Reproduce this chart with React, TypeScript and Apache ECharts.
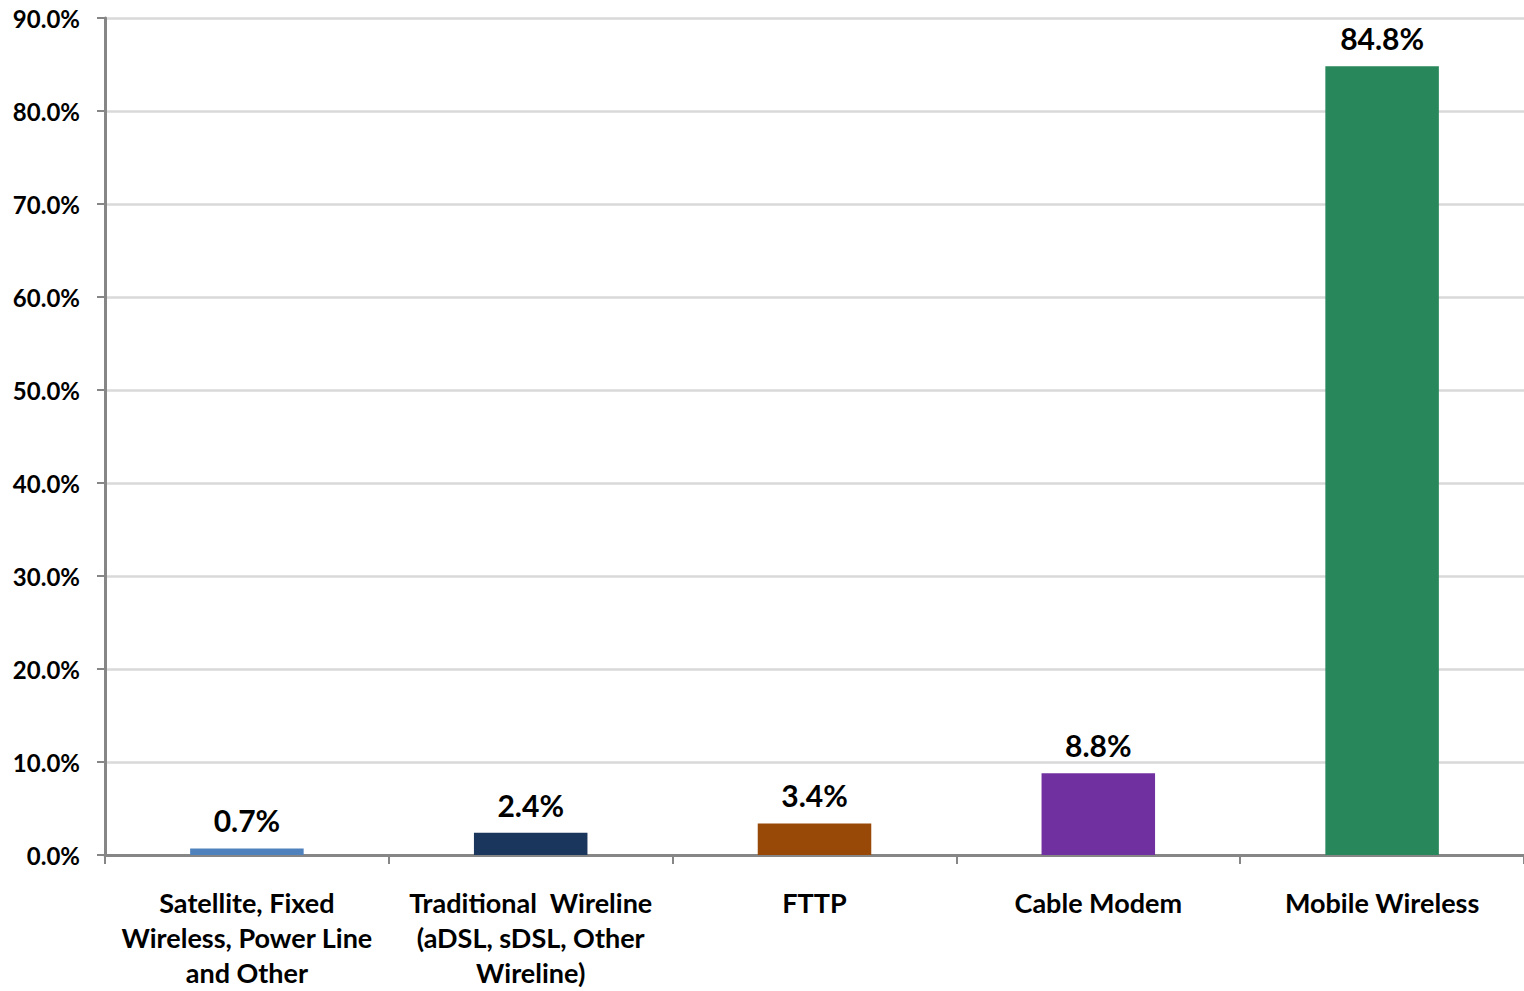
import React, { useEffect, useRef } from "react";
import * as echarts from "echarts";

const categories = [
  "Satellite, Fixed\nWireless, Power Line\nand Other",
  "Traditional  Wireline\n(aDSL, sDSL, Other\nWireline)",
  "FTTP",
  "Cable Modem",
  "Mobile Wireless",
];
const values = [0.7, 2.4, 3.4, 8.8, 84.8];
const barColors = ["#4F81BD", "#1B365D", "#984807", "#7030A0", "#28875B"];
const yTicks = { min: 0, max: 90, interval: 10 };

const FONT = "Lato, 'Open Sans', sans-serif";

export default function App() {
  const ref = useRef<HTMLDivElement>(null);
  useEffect(() => {
    if (!ref.current) return;
    const chart = echarts.init(ref.current, undefined, { renderer: "svg" });
    chart.setOption({
      animation: false,
      grid: {
        left: 105,
        right: 0,
        top: 18,
        bottom: 136,
        containLabel: false,
        outerBoundsMode: "none",
      },
      xAxis: {
        type: "category",
        data: categories,
        axisLine: { lineStyle: { color: "#868686", width: 3 } },
        axisTick: { show: true, length: 9, lineStyle: { color: "#868686", width: 2 } },
        axisLabel: {
          interval: 0,
          margin: 30,
          color: "#000",
          fontFamily: FONT,
          fontWeight: "bold",
          fontSize: 27,
          lineHeight: 35,
        },
      },
      yAxis: {
        type: "value",
        min: yTicks.min,
        max: yTicks.max,
        interval: yTicks.interval,
        axisLine: { show: true, lineStyle: { color: "#868686", width: 3 } },
        axisTick: { show: true, length: 8, lineStyle: { color: "#868686", width: 2 } },
        splitLine: { lineStyle: { color: "#D9D9D9", width: 2.5 } },
        axisLabel: {
          margin: 25,
          color: "#000",
          fontFamily: FONT,
          fontWeight: "bold",
          fontSize: 24,
          formatter: (v: number) => v.toFixed(1) + "%",
        },
      },
      series: [
        {
          type: "bar",
          barWidth: "40%",
          data: values.map((v, i) => ({ value: v, itemStyle: { color: barColors[i] } })),
          label: {
            show: true,
            position: "top",
            distance: 13,
            color: "#000",
            fontFamily: FONT,
            fontWeight: "bold",
            fontSize: 30,
            formatter: (p: any) => Number(p.value).toFixed(1) + "%",
          },
        },
      ],
    });
    return () => chart.dispose();
  }, []);
  return (
    <div
      ref={ref}
      style={{ position: "absolute", left: 0, top: 0, width: 1524, height: 991, background: "#fff" }}
    />
  );
}
